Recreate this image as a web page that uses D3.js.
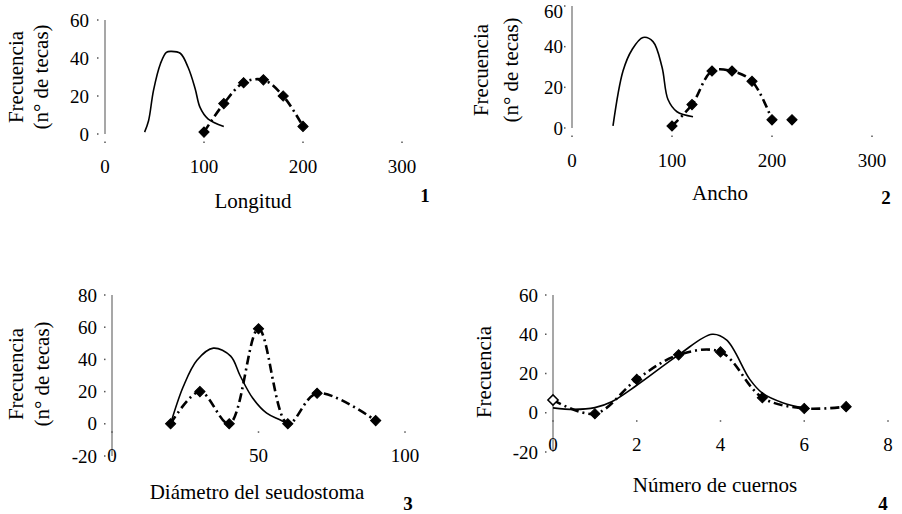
<!DOCTYPE html>
<html>
<head>
<meta charset="utf-8">
<script src="https://cdn.jsdelivr.net/npm/d3@7"></script>
<style>
html,body{margin:0;padding:0;background:#fff;}
</style>
</head>
<body>
<svg id="chart" width="902" height="514" font-family="'Liberation Serif', 'DejaVu Serif', serif"></svg>
<script>
// ---- Data ----
// Panel 1: Longitud
const p1SolidX = [40, 44, 49, 56, 62, 67, 76, 84, 91, 96, 104, 120];
const p1SolidY = [1, 7, 23, 37, 43, 43.5, 42.5, 35, 24, 14, 8, 4];
const p1PtsX = [100, 120, 140, 160, 180, 200];
const p1PtsY = [1, 16, 27, 28.5, 20, 4];
const p1XTicks = [0, 100, 200, 300];
const p1YTicks = [0, 20, 40, 60];

// Panel 2: Ancho
const p2SolidX = [41, 51, 60, 71, 81, 90, 96, 105, 121];
const p2SolidY = [1, 28, 38.5, 44.5, 42.5, 30, 14, 8, 5.5];
const p2PtsX = [100, 120, 140, 160, 180, 200, 220];
const p2PtsY = [1, 11.5, 28, 28, 23, 4, 4];
const p2LineCount = 6; // line joins the first six points
const p2XTicks = [0, 100, 200, 300];
const p2YTicks = [0, 20, 40, 60];

// Panel 3: Diámetro del seudostoma
const p3SolidX = [20, 24.3, 29, 34.6, 40.5, 43.7, 48, 52.8, 57.3, 60];
const p3SolidY = [0, 23, 39.5, 47, 42, 30, 16, 6.6, 2.5, 0];
const p3PtsX = [20, 30, 40, 50, 60, 70, 90];
const p3PtsY = [0, 20, 0, 59, 0, 19, 2];
const p3XTicks = [0, 50, 100];
const p3YTicks = [-20, 0, 20, 40, 60, 80];

// Panel 4: Número de cuernos
const p4SolidX = [0, 0.5, 1, 1.4, 2, 3, 3.8, 4.15, 4.7, 5, 5.5, 6];
const p4SolidY = [2.5, 1.7, 2.6, 5.6, 14, 29.5, 40, 37, 17, 10, 5, 2.5];
const p4PtsX = [0, 1, 2, 3, 4, 5, 6, 7];
const p4PtsY = [6.5, -0.5, 17, 29.5, 31, 7.7, 2.2, 3.1];
const p4OpenFirst = true;
const p4XTicks = [0, 2, 4, 6, 8];
const p4YTicks = [-20, 0, 20, 40, 60];

// ---- Layout ----
const FONT = "'Liberation Serif', 'DejaVu Serif', serif";
const panels = [
  {sx:[0,300], rx:[105,402], sy:[0,60], ry:[134,20], solidX:p1SolidX, solidY:p1SolidY, ptsX:p1PtsX, ptsY:p1PtsY, lineCount:p1PtsX.length,
   xt:p1XTicks, yt:p1YTicks, labOff:16, ytitle:["Frecuencia","(n° de tecas)"], ytx:[23,48], yty:77,
   xtitle:"Longitud", xtx:253, xty:208, num:"1", nx:425, ny:202, open:false},
  {sx:[0,300], rx:[572,872], sy:[0,60], ry:[128,6], solidX:p2SolidX, solidY:p2SolidY, ptsX:p2PtsX, ptsY:p2PtsY, lineCount:p2LineCount,
   xt:p2XTicks, yt:p2YTicks, labOff:9, ytitle:["Frecuencia","(n° de tecas)"], ytx:[488,518], yty:70,
   xtitle:"Ancho", xtx:720, xty:200, num:"2", nx:886, ny:204, open:false},
  {sx:[0,100], rx:[112,405], sy:[-20,80], ry:[456,295], solidX:p3SolidX, solidY:p3SolidY, ptsX:p3PtsX, ptsY:p3PtsY, lineCount:p3PtsX.length,
   xt:p3XTicks, yt:p3YTicks, labOff:15, ytitle:["Frecuencia","(n° de tecas)"], ytx:[23,49], yty:374,
   xtitle:"Diámetro del seudostoma", xtx:257, xty:499, num:"3", nx:408, ny:510, open:false},
  {sx:[0,8], rx:[553,888], sy:[-20,60], ry:[452,295], solidX:p4SolidX, solidY:p4SolidY, ptsX:p4PtsX, ptsY:p4PtsY, lineCount:p4PtsX.length,
   xt:p4XTicks, yt:p4YTicks, labOff:15, ytitle:["Frecuencia"], ytx:[491], yty:372,
   xtitle:"Número de cuernos", xtx:715, xty:492, num:"4", nx:883, ny:510, open:p4OpenFirst}
];

const svg = d3.select("#chart");

panels.forEach(p => {
  const x = d3.scaleLinear().domain(p.sx).range(p.rx);
  const y = d3.scaleLinear().domain(p.sy).range(p.ry);
  const g = svg.append("g").attr("font-family", FONT);
  const y0 = y(0);

  // y axis line
  g.append("line").attr("x1", x(0)).attr("x2", x(0))
    .attr("y1", y(p.sy[1])).attr("y2", y(p.sy[0]))
    .attr("stroke", "#8a8a8a").attr("stroke-width", 1.5);

  // y ticks (dots) and labels
  p.yt.forEach(v => {
    g.append("rect").attr("x", x(0) - 8).attr("y", y(v) - 0.75).attr("width", 1.5).attr("height", 1.5).attr("fill", "#555");
    g.append("text").attr("x", x(0) - p.labOff).attr("y", Math.max(y(v) + 6.5, 18))
      .attr("font-family", FONT)
      .attr("text-anchor", "end").attr("font-size", 19).text(v);
  });

  // x ticks (dots) and labels
  p.xt.forEach(v => {
    g.append("rect").attr("x", x(v) - 0.75).attr("y", y0 + 7.5).attr("width", 1.5).attr("height", 1.5).attr("fill", "#555");
    g.append("text").attr("x", x(v)).attr("y", y0 + 38.5)
      .attr("font-family", FONT)
      .attr("text-anchor", "middle").attr("font-size", 19).text(v);
  });

  // solid curve
  const solid = p.solidX.map((d, i) => [d, p.solidY[i]]);
  g.append("path").datum(solid)
    .attr("d", d3.line().x(d => x(d[0])).y(d => y(d[1])).curve(d3.curveCatmullRom.alpha(0.5)))
    .attr("fill", "none").attr("stroke", "#000").attr("stroke-width", 1.6);

  // dash-dot curve through points
  const pts = p.ptsX.map((d, i) => [d, p.ptsY[i]]);
  g.append("path").datum(pts.slice(0, p.lineCount))
    .attr("d", d3.line().x(d => x(d[0])).y(d => y(d[1])).curve(d3.curveCatmullRom.alpha(0.5)))
    .attr("fill", "none").attr("stroke", "#000").attr("stroke-width", 2.6)
    .attr("stroke-dasharray", "9,4,2,4");

  // diamond markers
  const sym = d3.symbol().type(d3.symbolSquare).size(52);
  pts.forEach((d, i) => {
    const open = p.open && i === 0;
    g.append("path").attr("d", sym())
      .attr("transform", `translate(${x(d[0])},${y(d[1])}) rotate(45)`)
      .attr("fill", open ? "#fff" : "#000")
      .attr("stroke", "#000").attr("stroke-width", open ? 1.5 : 1);
  });

  // y title
  p.ytitle.forEach((t, i) => {
    g.append("text").attr("transform", `translate(${p.ytx[i]},${p.yty}) rotate(-90)`)
      .attr("font-family", FONT)
      .attr("text-anchor", "middle").attr("font-size", 21).text(t);
  });

  // x title
  g.append("text").attr("x", p.xtx).attr("y", p.xty).attr("text-anchor", "middle")
    .attr("font-family", FONT)
    .attr("font-size", 21).text(p.xtitle);

  // panel number
  g.append("text").attr("x", p.nx).attr("y", p.ny).attr("text-anchor", "middle")
    .attr("font-family", FONT)
    .attr("font-size", 19).attr("font-weight", "bold").text(p.num);
});
</script>
</body>
</html>
